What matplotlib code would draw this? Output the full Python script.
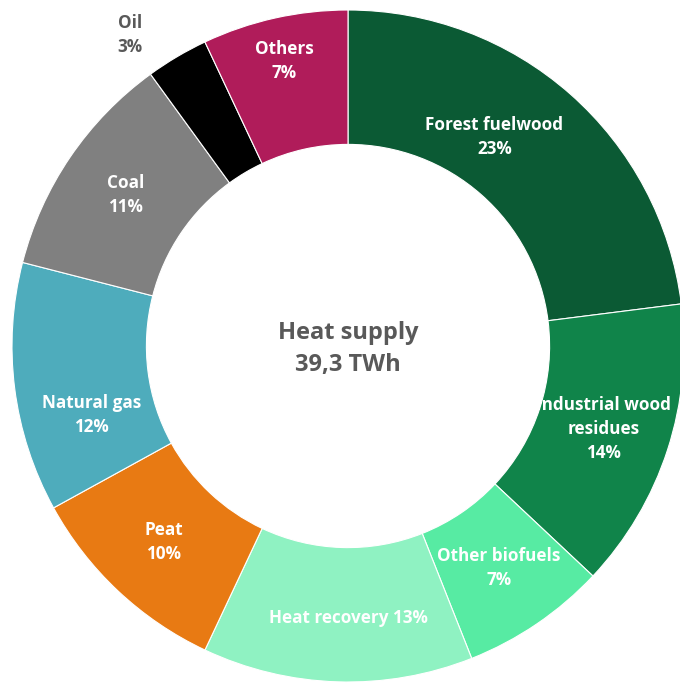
import numpy as np
import matplotlib
matplotlib.use("Agg")
import matplotlib.pyplot as plt

plt.rcParams['font.family'] = ['Open Sans', 'DejaVu Sans']

categories = ["Forest fuelwood", "Industrial wood\nresidues", "Other biofuels",
              "Heat recovery", "Peat", "Natural gas", "Coal", "Oil", "Others"]
shares = [23, 14, 7, 13, 10, 12, 11, 3, 7]
colors = ["#0B5A34", "#10844A", "#57EBA3", "#8FF2C2", "#E87A13",
          "#4EACBC", "#808080", "#000000", "#B01C5A"]
center_title = "Heat supply\n39,3 TWh"

W, H = 680, 686
fig = plt.figure(figsize=(W / 100, H / 100), dpi=100)
ax = fig.add_axes([0, 0, 1, 1])

R = 336.0
cx, cy = 348.0, 346.0

wedges, _ = ax.pie(shares, colors=colors, startangle=90, counterclock=False,
                   radius=1.0, wedgeprops=dict(width=0.4, edgecolor="white", linewidth=0.8))

ax.set_xlim(-cx / R, (W - cx) / R)
ax.set_ylim(-(H - cy) / R, cy / R)
ax.set_aspect("auto")
ax.axis("off")

# label placement (polar: angle in degrees, radius as fraction of outer radius)
label_place = {"Forest fuelwood": (55, 0.76), "Natural gas": (195, 0.79),
               "Oil": (125, 1.13), "Others": (None, 0.87), "Heat recovery": (270, 0.81)}

for w, name, val in zip(wedges, categories, shares):
    ang, r = label_place.get(name, (None, 0.80))
    if ang is None:
        ang = (w.theta1 + w.theta2) / 2
    a = np.deg2rad(ang)
    label = f"{name}\n{val}%" if name != "Heat recovery" else f"{name} {val}%"
    color = "#595959" if name == "Oil" else "white"
    ax.text(r * np.cos(a), r * np.sin(a), label, ha="center", va="center",
            fontsize=12.3, fontweight="bold", color=color, linespacing=1.45)

ax.text(0, -0.01, center_title, ha="center", va="center", fontsize=17,
        fontweight="bold", color="#595959", linespacing=1.45)

fig.savefig("out.png", dpi=100)
